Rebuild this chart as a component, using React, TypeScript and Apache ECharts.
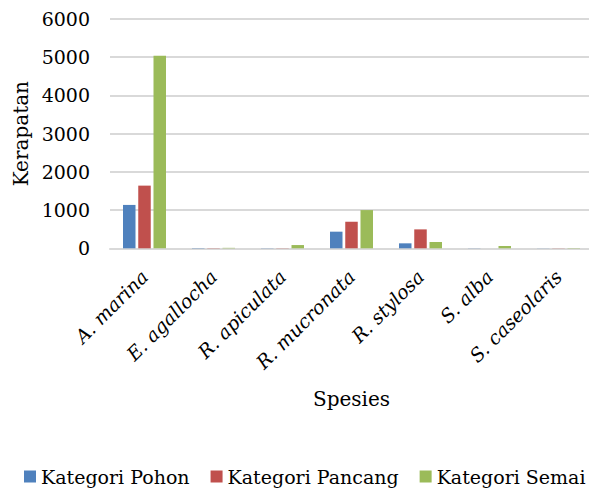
import React, { useEffect, useRef } from "react";
import * as echarts from "echarts";

const categories = ["A. marina", "E. agallocha", "R. apiculata", "R. mucronata", "R. stylosa", "S. alba", "S. caseolaris"];
const pohon = [1135, 8, 5, 435, 130, 4, 3];
const pancang = [1640, 6, 5, 695, 495, 0, 4];
const semai = [5040, 12, 85, 1000, 165, 60, 8];
const seriesNames = ["Kategori Pohon", "Kategori Pancang", "Kategori Semai"];
const colors = ["#4f81bd", "#c0504d", "#9bbb59"];

const FONT = "DejaVu Serif, Liberation Serif, serif";

export default function App() {
  const ref = useRef<HTMLDivElement>(null);
  useEffect(() => {
    if (!ref.current) return;
    const chart = echarts.init(ref.current, undefined, { renderer: "svg" });
    const data = [pohon, pancang, semai];
    const txt = (size: number, extra: any = {}) => ({ fontFamily: FONT, fontSize: size, color: "#000", ...extra });
    chart.setOption({
      animation: false,
      textStyle: txt(19),
      grid: {
        left: 110,
        top: 19,
        width: 483,
        height: 229.3,
        containLabel: false,
        outerBoundsMode: "none",
      },
      legend: {
        top: 467,
        left: 24,
        padding: 0,
        width: 589,
        itemWidth: 12,
        itemHeight: 12,
        itemGap: 21,
        icon: "rect",
        textStyle: txt(19),
        data: seriesNames,
      },
      xAxis: {
        type: "category",
        data: categories,
        name: "Spesies",
        nameLocation: "middle",
        nameGap: 141,
        nameTextStyle: txt(20),
        axisLine: { show: true, lineStyle: { color: "#d9d9d9", width: 2 } },
        axisTick: { show: false },
        axisLabel: {
          rotate: 45,
          interval: 0,
          margin: 25,
          ...txt(19, { fontStyle: "italic" }),
        },
      },
      yAxis: {
        type: "value",
        min: 0,
        max: 6000,
        interval: 1000,
        name: "Kerapatan",
        nameLocation: "middle",
        nameRotate: 90,
        nameGap: 75,
        nameTextStyle: txt(20),
        axisLine: { show: false },
        axisTick: { show: false },
        axisLabel: {
          margin: 20,
          ...txt(19),
          formatter: (v: number) => String(v),
        },
        splitLine: { lineStyle: { color: "#d9d9d9", width: 2 } },
      },
      series: seriesNames.map((name, i) => ({
        name,
        type: "bar",
        data: data[i],
        barWidth: 12.5,
        barGap: "22%",
        itemStyle: { color: colors[i] },
      })),
    });
    return () => chart.dispose();
  }, []);
  return (
    <div
      ref={ref}
      style={{ position: "fixed", left: 0, top: 0, width: 589, height: 490, background: "#fff" }}
    />
  );
}
